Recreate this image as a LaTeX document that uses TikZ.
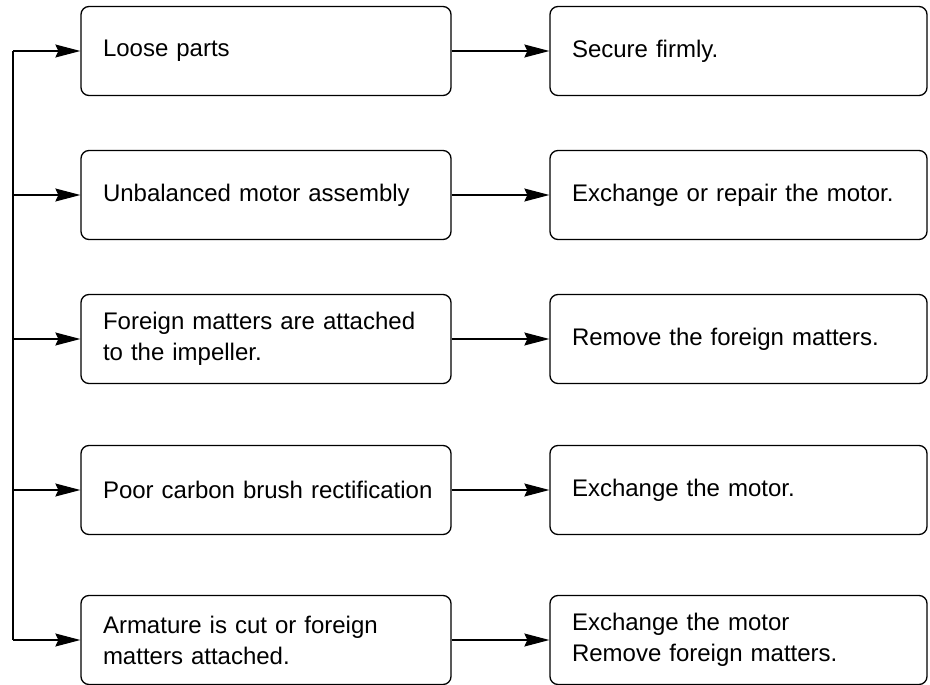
\documentclass[tikz,border=0pt]{standalone}
\usepackage{fontspec}
\setmainfont{Liberation Sans}
\usetikzlibrary{arrows.meta}
\begin{document}
\begin{tikzpicture}[x=1pt,y=-1pt,
  cause/.style={draw, line width=1.3pt, rounded corners=8pt, minimum height=89pt,
    text width=326pt, inner xsep=22pt, inner ysep=0pt, align=left,
    font=\fontsize{24}{31}\selectfont},
  remedy/.style={cause, text width=333pt},
  conn/.style={line width=1.1pt, -{Stealth[length=25pt, width=13pt, inset=3pt]}}
]
\useasboundingbox (0,0) rectangle (930,685);
\node[cause] (c1) at (266,51) {Loose parts};
\node[cause] (c2) at (266,195) {Unbalanced motor assembly};
\node[cause] (c3) at (266,339) {Foreign matters are attached\\to the impeller.};
\node[cause] (c4) at (266,490) {\mbox{Poor carbon brush rectification}};
\node[cause] (c5) at (266,640) {Armature is cut or foreign\\matters attached.};
\node[remedy] (r1) at (738.5,51) {Secure firmly.};
\node[remedy] (r2) at (738.5,195) {Exchange or repair the motor.};
\node[remedy] (r3) at (738.5,339) {Remove the foreign matters.};
\node[remedy] (r4) at (738.5,490) {Exchange the motor.};
\node[remedy] (r5) at (738.5,640) {Exchange the motor\\Remove foreign matters.};
\coordinate (t) at (13,51);
\coordinate (b) at (13,640);
\draw[line width=1.1pt] (t) -- (b);
\foreach \i in {1,...,5}{
  \draw[conn] (c\i.west -| t) -- (c\i.west);
  \draw[conn] (c\i.east) -- (r\i.west);
}
\end{tikzpicture}
\end{document}
